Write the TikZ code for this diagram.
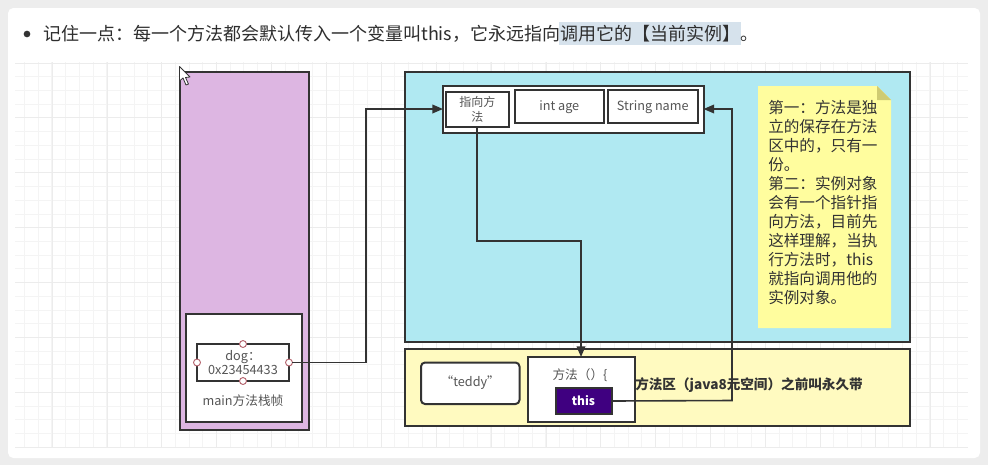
\documentclass[tikz,border=0pt]{standalone}
\usepackage{fontspec}
\setmainfont{Noto Sans CJK SC}
\usetikzlibrary{arrows.meta}
\newcommand{\fwcolon}{\char"FF1A\relax}
\newcommand{\fwcomma}{\char"FF0C\relax}
\newcommand{\fwl}{\char"FF08\relax}
\newcommand{\fwr}{\char"FF09\relax}
\definecolor{ink}{HTML}{333333}
\definecolor{txt}{HTML}{555555}
\definecolor{purp}{HTML}{DDB6E2}
\definecolor{cyanb}{HTML}{B0E9F2}
\definecolor{yelb}{HTML}{FFFAC0}
\definecolor{note}{HTML}{FFFD9E}
\definecolor{fold}{HTML}{CFCB72}
\definecolor{hl}{HTML}{D6E2EC}
\definecolor{gridm}{HTML}{F4F4F4}
\definecolor{gridM}{HTML}{ECECEC}
\definecolor{thisc}{HTML}{3F0080}
\definecolor{port}{HTML}{B5646E}
\tikzset{
 x=0.75pt,y=-0.75pt,
 panel/.style={draw=ink,line width=1.5pt,minimum width=#1,anchor=north west,inner sep=0pt,outer sep=0pt},
 box/.style={draw=ink,line width=1.5pt,fill=white,text=txt,font=\fontsize{9.5pt}{12pt}\selectfont,align=center,inner sep=0pt,outer sep=0pt},
 conn/.style={draw=ink,line width=1.2pt},
 tip/.style={-{Triangle[length=8pt,width=6.5pt]}},
 portdot/.style={circle,draw=port,fill=white,line width=.7pt,minimum size=5.2pt,inner sep=0pt,outer sep=0pt},
 lbl/.style={text=txt,font=\fontsize{9.5pt}{12pt}\selectfont,inner sep=0pt,align=center},
}
\newcommand{\boxat}[6]{\node[box,#6,anchor=north west,minimum width=#3*0.75pt,minimum height=#4*0.75pt] (#1) at (#2) {#5};}
\begin{document}
\begin{tikzpicture}
\useasboundingbox (0,0) rectangle (988,465);
\fill[white!93!black] (0,0) rectangle (988,465);
\fill[white] (8,8) [rounded corners=4pt] rectangle (980,458);
% grid
\begin{scope}
\clip (15,62) rectangle (968,448);
\foreach \i in {0,...,70}{ \draw[gridm,line width=.6pt] ({24.3+13.72*\i},62) -- ({24.3+13.72*\i},448);
  \draw[gridm,line width=.6pt] (15,{63+13.72*\i}) -- (968,{63+13.72*\i}); }
\foreach \i in {0,...,18}{ \draw[gridM,line width=.7pt] ({52.1+54.88*\i},62) -- ({52.1+54.88*\i},448);
  \draw[gridM,line width=.7pt] (15,{63+54.88*\i}) -- (968,{63+54.88*\i}); }
\end{scope}
% heading
\fill[hl] (559,22) rectangle (741,45);
\node[circle,fill=ink,minimum size=5pt,inner sep=0pt] (bullet) at (27,34) {};
\node[anchor=west,inner sep=0pt,text=ink!90!black,font=\fontsize{13.5pt}{16pt}\selectfont] (head) at (43,34) {记住一点\fwcolon 每一个方法都会默认传入一个变量叫this\fwcomma 它永远指向调用它的【当前实例】。};
% panels
\node[panel=1pt,fill=purp,minimum width=129.5*0.75pt,minimum height=358*0.75pt] (stack) at (179.5,71.5) {};
\node[panel=1pt,fill=cyanb,minimum width=505*0.75pt,minimum height=270*0.75pt] (heap) at (405,71.5) {};
\node[panel=1pt,fill=yelb,minimum width=505*0.75pt,minimum height=77*0.75pt] (meta) at (404.5,349) {};
% frame
\boxat{frame}{185.5,313.5}{116}{108}{}{}
\boxat{dog}{197,344}{92}{37}{dog\fwcolon\\[-1pt]0x23454433}{font=\fontsize{9.5pt}{11.5pt}\selectfont}
\node[lbl] (mainl) at (243,401) {main方法栈帧};
\node[portdot] (pt) at (243,344) {};
\node[portdot] (pb) at (243,381) {};
\node[portdot] (pl) at (197,362.5) {};
\node[portdot] (pr) at (289,362.5) {};
% object
\boxat{obj}{443,85.5}{260.5}{47}{}{}
\boxat{ptr}{445.5,92}{63.5}{34.5}{指向方\\[0.5pt]法}{font=\fontsize{9pt}{11pt}\selectfont}
\boxat{age}{514.5,89.5}{89.5}{33.5}{\raisebox{-3.2pt}[0pt][0pt]{int age}}{}
\boxat{name}{608,89.5}{89.5}{33.5}{\raisebox{-3.2pt}[0pt][0pt]{String name}}{}
% note
\fill[note] (758,86) -- (877,86) -- (891,100) -- (891,328) -- (758,328) -- cycle;
\fill[fold] (877,86) -- (891,100) -- (877,100) -- cycle;
\node[anchor=north west,inner sep=0pt,text=ink,font=\fontsize{11.7pt}{14.25pt}\selectfont,align=left] (notetxt) at (768,100.5)
 {第一\fwcolon 方法是独\\立的保存在方法\\区中的\fwcomma 只有一\\份。\\第二\fwcolon 实例对象\\会有一个指针指\\向方法\fwcomma 目前先\\这样理解\fwcomma 当执\\行方法时\fwcomma this\\就指向调用他的\\实例对象。};
% method area
\boxat{teddy}{421,362.5}{98.5}{41.5}{\raisebox{-2.8pt}[0pt][0pt]{“teddy”}}{rounded corners=3pt}
\boxat{method}{527.5,357}{107}{65}{}{}
\node[lbl] (mname) at (580,375) {方法\fwl\fwr\{};
\node[box,draw=ink,fill=thisc,text=white,font=\fontsize{9pt}{11pt}\bfseries\selectfont,anchor=north west,minimum width=56*0.75pt,minimum height=26*0.75pt] (thisb) at (555.5,388) {this};
\node[anchor=west,inner sep=0pt,text=ink,font=\fontsize{10.2pt}{12pt}\bfseries\selectfont] (metal) at (635,385) {方法区\fwl java8元空间\fwr 之前叫永久带};
% connectors
\draw[conn,tip] (pr.east) -- (366,362.5) -- (366,109) -- (obj.west);
\draw[conn,tip] ([xshift=-32*0.75pt]ptr.south east) -- (477,241) -- (581,241) -- (method.north -| 581,0);
\draw[conn,tip] (thisb.east) -- (732,400.5) -- (732,109) -- (obj.east);
% cursor
\draw[black!80,fill=white,line width=.6pt,line join=round] (179.5,66.5) -- (179.5,81) -- (183,78) -- (186,85) -- (188.5,84) -- (185.5,77.5) -- (190,77) -- cycle;
\end{tikzpicture}
\end{document}
